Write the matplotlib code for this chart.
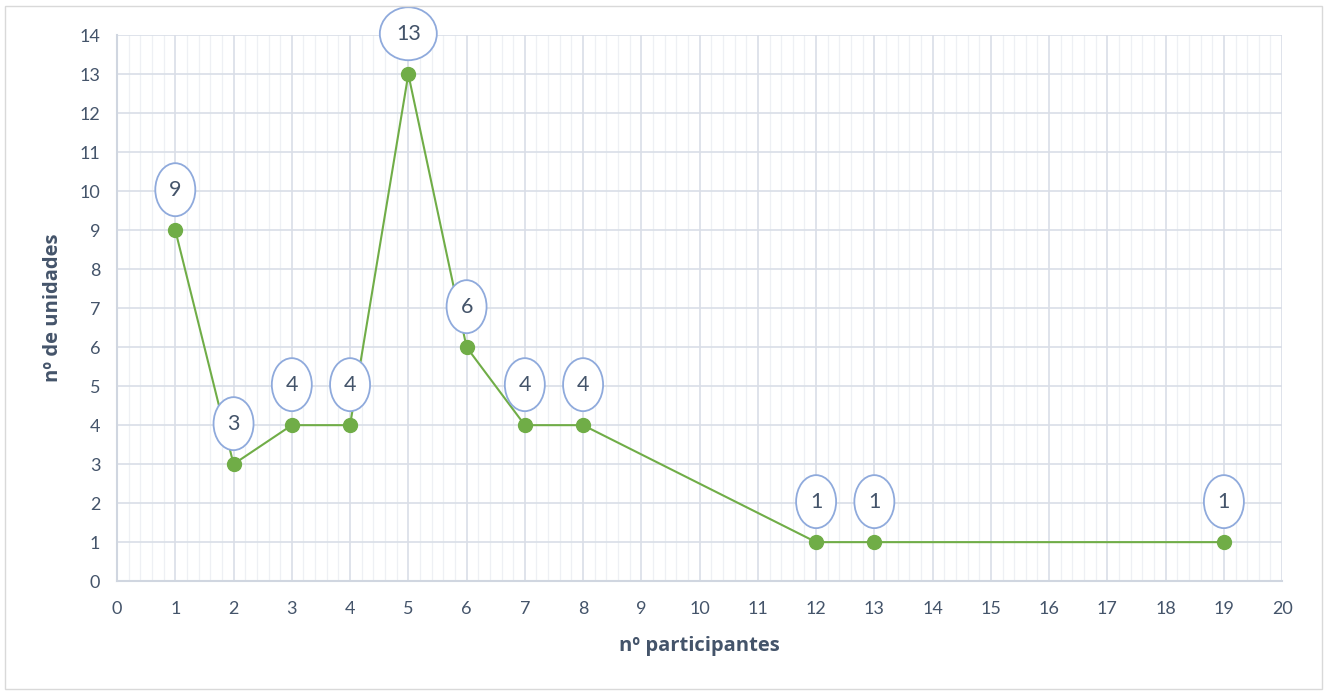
import matplotlib.pyplot as plt
from matplotlib.patches import Rectangle, Ellipse
from matplotlib.ticker import MultipleLocator
from matplotlib.transforms import ScaledTranslation

plt.rcParams["font.family"] = ["Lato", "DejaVu Sans"]

participantes = [1, 2, 3, 4, 5, 6, 7, 8, 12, 13, 19]
unidades = [9, 3, 4, 4, 13, 6, 4, 4, 1, 1, 1]

text_col = "#44546A"
green = "#70AD47"

fig = plt.figure(figsize=(13.27, 6.91), dpi=100)
fig.patches.append(Rectangle((0.004, 0.003), 0.992, 0.988, transform=fig.transFigure,
                             fill=False, edgecolor="#D9D9D9", linewidth=1))
ax = fig.add_axes([0.0882, 0.159, 0.8780, 0.790])

ax.plot(participantes, unidades, color=green, linewidth=1.5, marker="o",
        markersize=10, markerfacecolor=green, markeredgecolor=green, zorder=3)

# data labels in ellipses, sized in inches above each point
for x, y in zip(participantes, unidades):
    tr = fig.dpi_scale_trans + ScaledTranslation(x, y, ax.transData)
    w = 0.57 if y >= 10 else 0.40
    ax.add_patch(Ellipse((0, 0.405), w, 0.53, transform=tr, facecolor="white",
                         edgecolor="#8FAADC", linewidth=1.3, zorder=4, clip_on=False))
    ax.text(0, 0.405, str(y), transform=tr, ha="center", va="center",
            fontsize=15.5, color=text_col, zorder=5)

ax.set_xlim(0, 20)
ax.set_ylim(0, 14)
ax.xaxis.set_major_locator(MultipleLocator(1))
ax.xaxis.set_minor_locator(MultipleLocator(0.2))
ax.yaxis.set_major_locator(MultipleLocator(1))

ax.grid(which="major", color="#D9DEE7", linewidth=1.2)
ax.grid(which="minor", axis="x", color="#EEF0F4", linewidth=0.9)
ax.set_axisbelow(True)

for s in ["top", "right"]:
    ax.spines[s].set_visible(False)
for s in ["left", "bottom"]:
    ax.spines[s].set_color("#D0D6E0")
    ax.spines[s].set_linewidth(1.5)

ax.tick_params(which="both", length=0, labelsize=13, colors=text_col)
ax.tick_params(axis="x", pad=14)
ax.tick_params(axis="y", pad=12)
ax.set_xlabel("nº participantes", fontsize=14.5, fontweight="bold", color=text_col,
              labelpad=14, family=["Open Sans", "DejaVu Sans"])
ax.set_ylabel("nº de unidades", fontsize=14.5, fontweight="bold", color=text_col,
              labelpad=12, family=["Open Sans", "DejaVu Sans"])

fig.savefig("out.png", dpi=100)
